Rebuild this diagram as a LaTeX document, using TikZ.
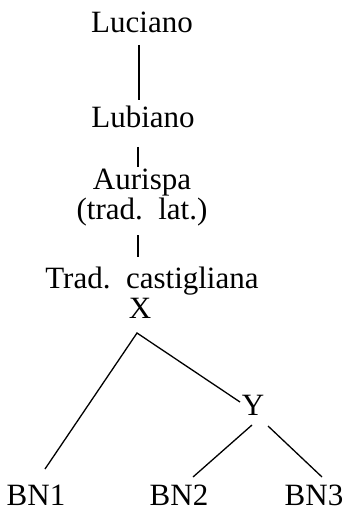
\documentclass[tikz,border=0pt]{standalone}
\usepackage{fontspec}
\setmainfont{Liberation Serif}
\begin{document}
\begin{tikzpicture}[x=1pt,y=-1pt,
  lbl/.style={anchor=base,inner sep=0pt,font=\fontsize{31}{25}\selectfont},
  edge/.style={line width=1.3pt}]
\useasboundingbox (0,0) rectangle (352,510);
\node[lbl] (luc) at (142,33) {Luciano};
\node[lbl] (lub) at (143,128) {Lubiano};
\node[lbl,align=center] (aur) at (142,219) {Aurispa\\(trad.\ \ lat.)};
\node[lbl] (cas) at (152,288) {Trad.\ \ castigliana};
\node[lbl] (x) at (140,318) {X};
\node[lbl] (y) at (253,415) {Y};
\node[lbl,text depth=0pt] (bn1) at (36,505) {BN1};
\node[lbl,text depth=0pt] (bn2) at (179,505) {BN2};
\node[lbl,text depth=0pt] (bn3) at (314,505) {BN3};
\coordinate (a1) at (139,45);
\coordinate (a2) at (139,100);
\coordinate (b1) at (138,147);
\coordinate (b2) at (138,167);
\coordinate (c1) at (138,235);
\coordinate (c2) at (138,257);
\coordinate (xt) at (137,333);
\coordinate (l1) at (45,469);
\coordinate (r1) at (240,402);
\coordinate (y1) at (252,425);
\coordinate (y2) at (193,477);
\coordinate (y3) at (268,426);
\coordinate (y4) at (322,477);
\draw[edge] (a1) -- (a2);
\draw[edge] (b1) -- (b2);
\draw[edge] (c1) -- (c2);
\draw[edge] (l1) -- (xt) -- (r1);
\draw[edge] (y1) -- (y2);
\draw[edge] (y3) -- (y4);
\end{tikzpicture}
\end{document}
